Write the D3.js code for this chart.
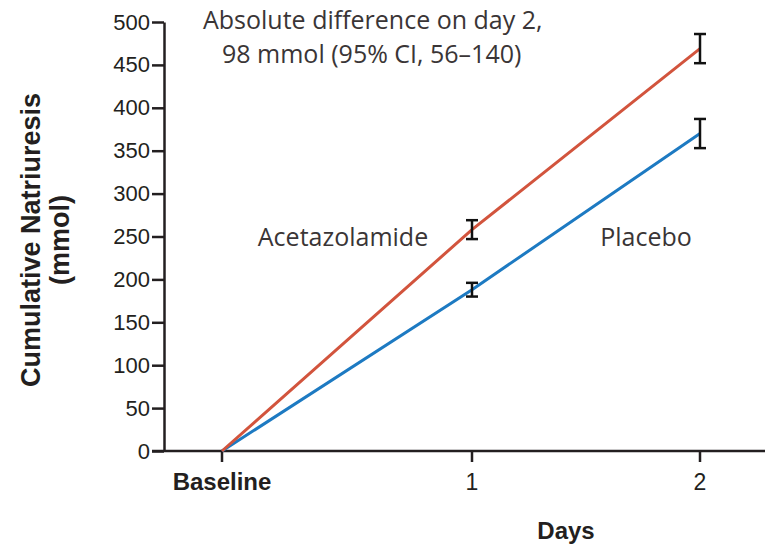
<!DOCTYPE html>
<html>
<head>
<meta charset="utf-8">
<script src="https://cdn.jsdelivr.net/npm/d3@7"></script>
<style>
  body { margin: 0; background: #fff; }
  svg { display: block; }
</style>
</head>
<body>
<div id="chart"></div>
<script>
const width = 765;
const height = 552;

// data
const days = [0, 1, 2];
const dayLabels = ["Baseline", "1", "2"];
const acetazolamide = [0, 258, 469];
const acetazolamideErr = [0, 11, 17];
const placebo = [0, 188, 370];
const placeboErr = [0, 8, 17];
const yTicks = [0, 50, 100, 150, 200, 250, 300, 350, 400, 450, 500];

const ink = "#231f20";
const red = "#d2543d";
const blue = "#1d7ac2";

const svg = d3.select("#chart").append("svg")
    .attr("width", width)
    .attr("height", height);

// baseline -> day 1 gap is a bit wider than day 1 -> day 2 in the original
const x = d3.scaleLinear().domain([0, 1, 2]).range([222, 472, 700]);
const y = d3.scaleLinear().domain([0, 500]).range([451, 22]);

const numFont = "'Liberation Sans', Arial, sans-serif";

// y axis
const yAxis = svg.append("g")
    .attr("transform", "translate(164,0)")
    .call(d3.axisLeft(y).tickValues(yTicks).tickSize(12).tickSizeOuter(0).tickPadding(2));
yAxis.select(".domain").attr("stroke", ink).attr("stroke-width", 2.5);
yAxis.selectAll(".tick line").attr("stroke", ink).attr("stroke-width", 2.5);
yAxis.selectAll(".tick text")
    .attr("fill", ink)
    .style("font-family", numFont)
    .style("font-size", "22px");

// x axis line runs from the y tick ends to the right edge
svg.append("line")
    .attr("x1", 152).attr("x2", width)
    .attr("y1", y(0)).attr("y2", y(0))
    .attr("stroke", ink).attr("stroke-width", 2.5);

const xTick = svg.append("g").selectAll("g")
    .data(days)
    .join("g")
    .attr("transform", d => `translate(${x(d)},${y(0)})`);
xTick.append("line")
    .attr("y2", 11)
    .attr("stroke", ink).attr("stroke-width", 2.5);
xTick.append("text")
    .attr("y", 39)
    .attr("text-anchor", "middle")
    .attr("fill", ink)
    .style("font-family", numFont)
    .style("font-weight", (d, i) => i === 0 ? "bold" : "normal")
    .style("font-size", (d, i) => i === 0 ? "24px" : "23px")
    .text((d, i) => dayLabels[i]);

// axis titles
svg.append("text")
    .attr("x", 566).attr("y", 539)
    .attr("text-anchor", "middle")
    .attr("fill", ink)
    .style("font-family", numFont)
    .style("font-weight", "bold")
    .style("font-size", "24px")
    .text("Days");

const yTitle = svg.append("text")
    .attr("transform", "translate(0,240) rotate(-90)")
    .attr("text-anchor", "middle")
    .attr("fill", ink)
    .style("font-family", numFont)
    .style("font-weight", "bold")
    .style("font-size", "27px");
yTitle.append("tspan").attr("x", 0).attr("y", 40).text("Cumulative Natriuresis");
yTitle.append("tspan").attr("x", 0).attr("y", 69).text("(mmol)");

// series
const line = d3.line().x((d, i) => x(days[i])).y(d => y(d));

const series = [
    { values: placebo, err: placeboErr, color: blue },
    { values: acetazolamide, err: acetazolamideErr, color: red }
];

series.forEach(s => {
    svg.append("path")
        .datum(s.values)
        .attr("fill", "none")
        .attr("stroke", s.color)
        .attr("stroke-width", 3)
        .attr("d", line);
});

// error bars (drawn on top)
series.forEach(s => {
    const g = svg.append("g").attr("stroke", "#111").attr("stroke-width", 2.5);
    days.forEach((d, i) => {
        if (!s.err[i]) return;
        const cx = x(d);
        const top = y(s.values[i] + s.err[i]);
        const bot = y(s.values[i] - s.err[i]);
        g.append("line").attr("x1", cx).attr("x2", cx).attr("y1", top).attr("y2", bot);
        g.append("line").attr("x1", cx - 6).attr("x2", cx + 6).attr("y1", top).attr("y2", top);
        g.append("line").attr("x1", cx - 6).attr("x2", cx + 6).attr("y1", bot).attr("y2", bot);
    });
});

// annotations
const labelFont = "'Open Sans', 'DejaVu Sans', sans-serif";
svg.append("text")
    .attr("x", 343).attr("y", 246)
    .attr("text-anchor", "middle")
    .attr("fill", "#3a3536")
    .style("font-family", labelFont)
    .style("font-size", "25px")
    .text("Acetazolamide");
svg.append("text")
    .attr("x", 646).attr("y", 246)
    .attr("text-anchor", "middle")
    .attr("fill", "#3a3536")
    .style("font-family", labelFont)
    .style("font-size", "25px")
    .text("Placebo");

const note = svg.append("text")
    .attr("fill", "#3a3536")
    .style("font-family", labelFont)
    .style("font-size", "25px");
note.append("tspan").attr("x", 203).attr("y", 29).text("Absolute difference on day 2,");
note.append("tspan").attr("x", 222).attr("y", 63).text("98 mmol (95% CI, 56\u2013140)");
</script>
</body>
</html>
